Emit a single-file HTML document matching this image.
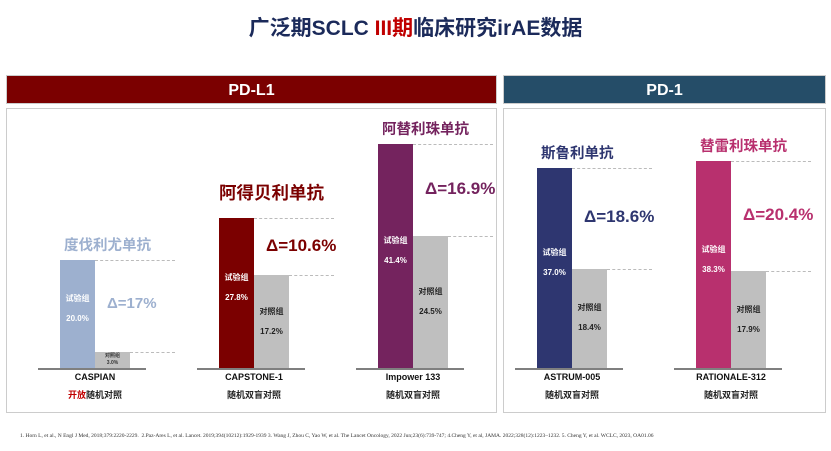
<!DOCTYPE html>
<html><head><meta charset="utf-8"><style>
body{margin:0;width:831px;height:451px;background:#fff;position:relative;overflow:hidden;font-family:"Liberation Sans","Noto Sans CJK SC",sans-serif}
.a{position:absolute}
.t{white-space:nowrap;text-align:center}
</style></head><body>
<div class="a t" style="left:0;width:831px;top:12px;font-size:21px;font-weight:bold;color:#1b2a5a">广泛期SCLC <span style="color:#c00000">III期</span>临床研究irAE数据</div>
<div class="a t" style="left:6px;top:75px;width:491px;height:29px;background:#7b0000;color:#fff;font-size:16px;font-weight:bold;line-height:29px;border:1px solid #ccc;box-sizing:border-box">PD-L1</div>
<div class="a t" style="left:503px;top:75px;width:323px;height:29px;background:#254d68;color:#fff;font-size:16px;font-weight:bold;line-height:29px;border:1px solid #ccc;box-sizing:border-box">PD-1</div>
<div class="a" style="left:6px;top:108px;width:491px;height:305px;border:1px solid #ccc;box-sizing:border-box"></div>
<div class="a" style="left:503px;top:108px;width:323px;height:305px;border:1px solid #ccc;box-sizing:border-box"></div>
<div class="a" style="left:20px;top:433px;font-size:5.5px;color:#333;font-family:'Liberation Serif',serif;white-space:nowrap">1. Horn L, et al., N Engl J Med, 2018;379:2220-2229.&nbsp; 2.Paz-Ares L, et al. Lancet. 2019;394(10212):1929-1939 3. Wang J, Zhou C, Yao W, et al. The Lancet Oncology, 2022 Jun;23(6):739-747; 4.Cheng Y, et al, JAMA. 2022;328(12):1223–1232. 5. Cheng Y, et al. WCLC, 2023, OA01.06</div>
<div id="chart"></div>
<script>
const trials=["CASPIAN","CAPSTONE-1","Impower 133","ASTRUM-005","RATIONALE-312"];
const drugs=["度伐利尤单抗","阿得贝利单抗","阿替利珠单抗","斯鲁利单抗","替雷利珠单抗"];
const expVals=[20.0,27.8,41.4,37.0,38.3];
const ctrlVals=[3.0,17.2,24.5,18.4,17.9];
const deltas=["Δ=17%","Δ=10.6%","Δ=16.9%","Δ=18.6%","Δ=20.4%"];
const designs=["开放随机对照","随机双盲对照","随机双盲对照","随机双盲对照","随机双盲对照"];
const colors=["#9db0cf","#7b0000","#74235e","#2e3670","#b8306e"];
const base=368, ppu=5.4, bw=35, lefts=[60,219,378,537,696];
const y=v=>base-v*ppu;
const C=document.getElementById('chart');
function mk(name,css,txt){const d=document.createElement('div');d.className='a';d.style.cssText=css;if(txt!==undefined)d.innerHTML=txt;


C.appendChild(d);return d;}
trials.forEach((t,i)=>{
 const x=lefts[i], ye=y(expVals[i]), yc=y(ctrlVals[i]), small=ctrlVals[i]<8;
 mk('baseline',`left:${x-22}px;top:${base}px;width:${2*bw+38}px;height:2px;background:#7f7f7f`);
 mk('dash-exp',`left:${x+bw}px;top:${ye}px;width:${2*bw+10}px;border-top:1px dashed #bbb`);
 mk('dash-ctrl',`left:${x+2*bw}px;top:${yc}px;width:${bw+10}px;border-top:1px dashed #bbb`);
 mk('bar-exp',`left:${x}px;top:${ye}px;width:${bw}px;height:${base-ye}px;background:${colors[i]}`);
 mk('bar-ctrl',`left:${x+bw}px;top:${yc}px;width:${bw}px;height:${base-yc}px;background:#bfbfbf`);
 const me=(ye+base)/2-25;
 mk('exp-label',`left:${x}px;top:${me}px;width:${bw}px;text-align:center;color:#fff;font-size:8px;font-weight:bold;line-height:20px`,'试验组<br>'+expVals[i].toFixed(1)+'%');
 if(small) mk('ctrl-label',`left:${x+bw}px;top:${yc+1}px;width:${bw}px;text-align:center;color:#333;font-size:5px;font-weight:bold;line-height:7px`,'对照组<br>'+ctrlVals[i].toFixed(1)+'%');
 else mk('ctrl-label',`left:${x+bw}px;top:${(yc+base)/2-20}px;width:${bw}px;text-align:center;color:#222;font-size:8px;font-weight:bold;line-height:20px`,'对照组<br>'+ctrlVals[i].toFixed(1)+'%');
 const big=i==1;
 mk('drug-name',`left:${x+(big?0:4)}px;top:${ye-(big?38:26)}px;color:${colors[i]};font-size:${big?17.5:14.5}px;font-weight:bold;white-space:nowrap`,drugs[i]);
 mk('delta-label',`left:${x+bw+12}px;top:${(ye+yc)/2-11}px;color:${colors[i]};font-size:${i==0?15:17}px;font-weight:bold;white-space:nowrap`,deltas[i]);
 mk('trial-name',`left:${x-30}px;width:${2*bw+60}px;top:${base+4}px;text-align:center;font-size:9px;font-weight:bold;color:#111`,t);
 mk('design',`left:${x-30}px;width:${2*bw+60}px;top:${base+20}px;text-align:center;font-size:9px;font-weight:bold;color:#222`,i==0?'<span style="color:#c00000">开放</span>随机对照':designs[i]);
});
</script>
</body></html>
